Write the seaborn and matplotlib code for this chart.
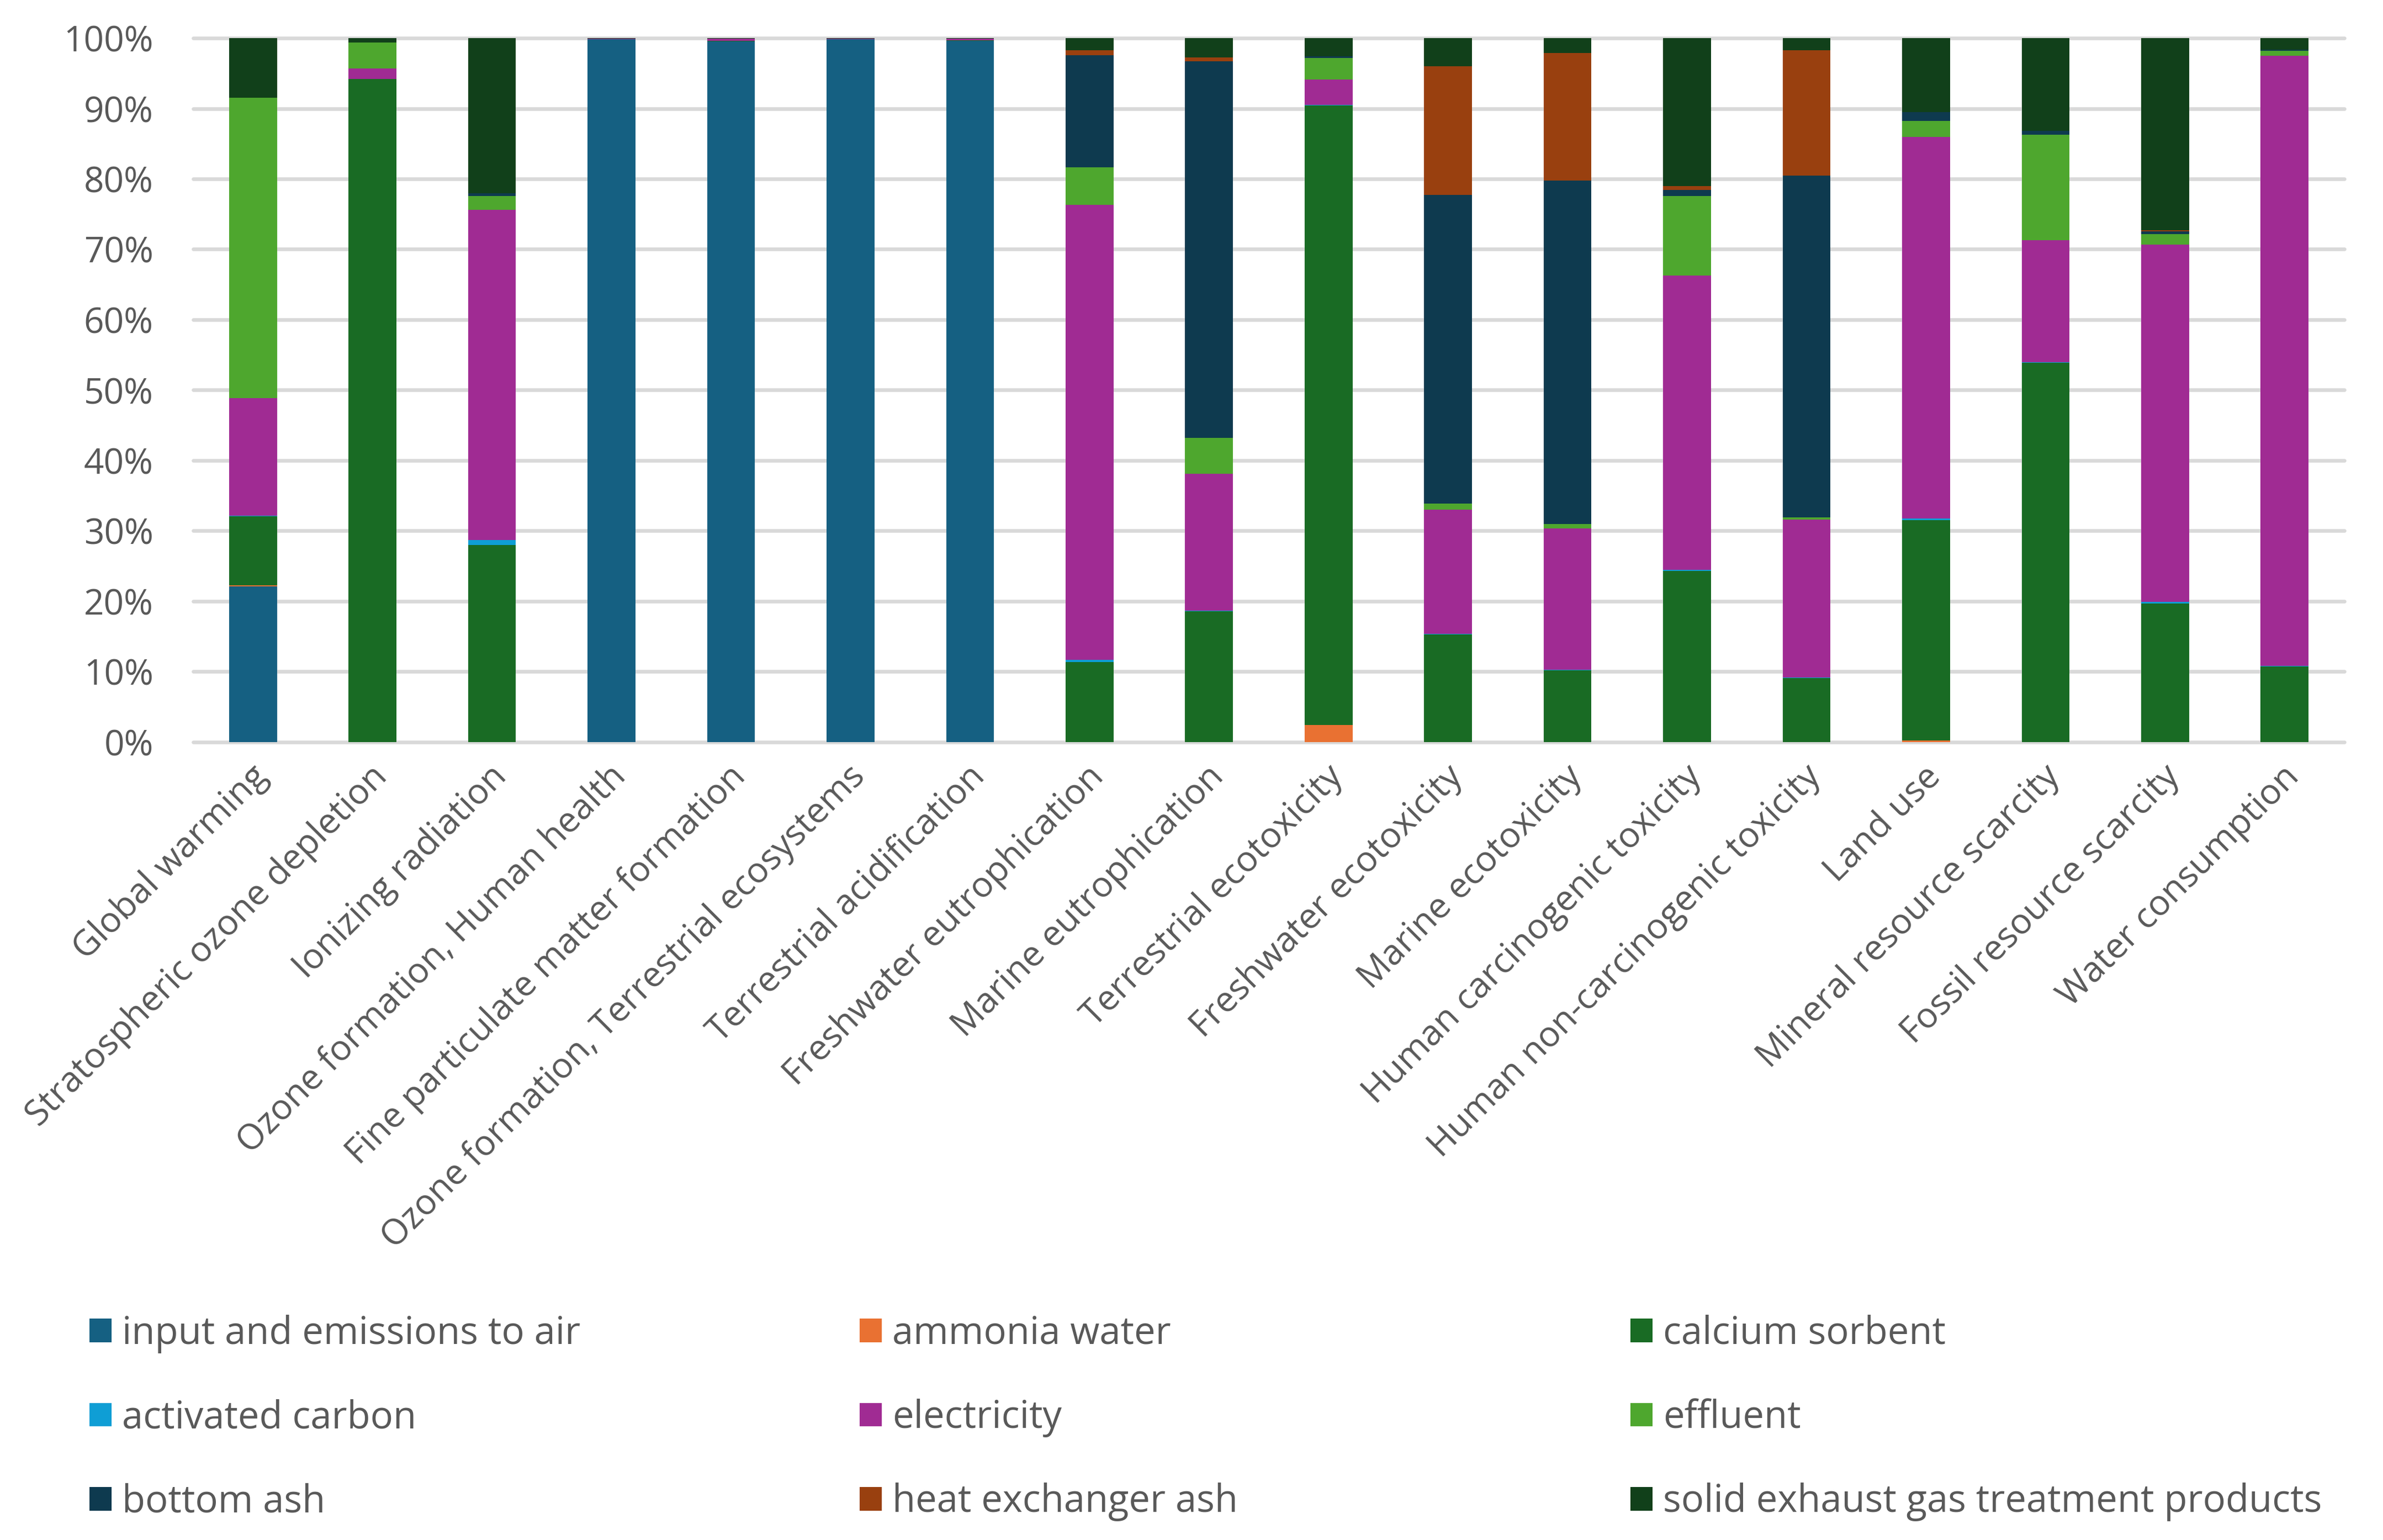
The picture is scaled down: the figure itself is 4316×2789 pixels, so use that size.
import matplotlib
matplotlib.use("Agg")
import matplotlib.pyplot as plt
import matplotlib.transforms as mtransforms
from matplotlib.patches import Patch
import numpy as np
import seaborn as sb

# impact categories (x axis)
categories = [
    "Global warming", "Stratospheric ozone depletion", "Ionizing radiation",
    "Ozone formation, Human health", "Fine particulate matter formation",
    "Ozone formation, Terrestrial ecosystems", "Terrestrial acidification",
    "Freshwater eutrophication", "Marine eutrophication", "Terrestrial ecotoxicity",
    "Freshwater ecotoxicity", "Marine ecotoxicity", "Human carcinogenic toxicity",
    "Human non-carcinogenic toxicity", "Land use", "Mineral resource scarcity",
    "Fossil resource scarcity", "Water consumption",
]

# contribution of each process (%), same order as categories
input_air = [22.1, 0, 0, 99.85, 99.55, 99.85, 99.6, 0, 0, 0, 0, 0, 0, 0, 0, 0, 0, 0]
ammonia_water = [0.2, 0, 0, 0, 0, 0, 0, 0, 0, 2.42, 0, 0, 0, 0, 0.2, 0, 0, 0]
calcium_sorbent = [9.8, 94.2, 28.0, 0, 0.08, 0, 0.08, 11.4, 18.6, 88.0, 15.3, 10.2,
                   24.3, 9.1, 31.3, 53.9, 19.7, 10.75]
activated_carbon = [0.1, 0, 0.7, 0, 0, 0, 0, 0.25, 0.1, 0.1, 0.05, 0.05,
                    0.15, 0.05, 0.25, 0.05, 0.2, 0.05]
electricity = [16.7, 1.5, 46.9, 0.1, 0.31, 0.1, 0.24, 64.65, 19.4, 3.6, 17.7, 20.1,
               41.8, 22.45, 54.2, 17.3, 50.7, 86.7]
effluent = [42.7, 3.7, 1.9, 0, 0, 0, 0, 5.35, 5.1, 3.05, 0.8, 0.65,
            11.3, 0.35, 2.3, 15.0, 1.5, 0.72]
bottom_ash = [0, 0, 0.45, 0, 0, 0, 0, 15.95, 53.5, 0.23, 43.9, 48.75,
              0.88, 48.5, 1.26, 0.56, 0.42, 0.15]
heat_exchanger_ash = [0, 0, 0, 0, 0, 0, 0, 0.65, 0.57, 0, 18.26, 18.12,
                      0.55, 17.81, 0, 0, 0.1, 0]
solid_exhaust = [8.45, 0.6, 22.0, 0.05, 0.06, 0.05, 0.08, 1.75, 2.73, 2.6, 4.0, 2.1,
                 21.0, 1.71, 10.5, 13.16, 27.3, 1.65]

series_names = [
    "input and emissions to air", "ammonia water", "calcium sorbent",
    "activated carbon", "electricity", "effluent",
    "bottom ash", "heat exchanger ash", "solid exhaust gas treatment products",
]
series_values = [input_air, ammonia_water, calcium_sorbent, activated_carbon,
                 electricity, effluent, bottom_ash, heat_exchanger_ash, solid_exhaust]
colors = ["#156082", "#E97132", "#196B24", "#0F9ED5", "#A02B93", "#4EA72E",
          "#0E3A4F", "#99400F", "#11401A"]

TEXT = "#595959"
GRID = "#D9D9D9"
FS = 23
LEG_FS = 24.7

sb.set_style("white")
plt.rcParams["font.family"] = ["Open Sans", "DejaVu Sans"]

# 100% stacked: normalise each category, then cumulate
vals = np.array(series_values, dtype=float)
shares = vals / vals.sum(axis=0) * 100
cum = np.cumsum(shares, axis=0)

fig = plt.figure(figsize=(4316 / 200, 2789 / 200), dpi=200)
ax = fig.add_axes([350 / 4316, 1 - 1344 / 2789, (4246 - 350) / 4316, (1344 - 69) / 2789])

# draw from the top layer down so each lower layer covers the one above
for k in reversed(range(len(series_names))):
    sb.barplot(x=categories, y=cum[k], color=colors[k], saturation=1, width=0.4,
               linewidth=0, ax=ax)

ax.set_xlim(-0.5, len(categories) - 0.5)
ax.set_ylim(0, 100)
ax.set_yticks(np.arange(0, 101, 10))
ax.set_yticklabels([f"{t}%" for t in range(0, 101, 10)])
ax.set_axisbelow(True)
ax.yaxis.grid(True, color=GRID, linewidth=2.4)
for gl in ax.get_ygridlines():
    gl.set_clip_on(False)
ax.xaxis.grid(False)
for s in ax.spines.values():
    s.set_visible(False)
ax.set_xlabel("")
ax.set_ylabel("")
ax.tick_params(axis="y", length=0, pad=26, labelsize=FS, labelcolor=TEXT)
ax.tick_params(axis="x", length=0, pad=19, labelsize=FS, labelcolor=TEXT)
ax.set_xticks(range(len(categories)))
ax.set_xticklabels(categories, rotation=45, ha="right", va="center",
                   rotation_mode="anchor")
shift = mtransforms.ScaledTranslation(6 / 72, 0, fig.dpi_scale_trans)
for lab in ax.get_xticklabels():
    lab.set_transform(lab.get_transform() + shift)

# legend: three columns, filled row by row like the original
handles = [Patch(facecolor=c, edgecolor="none") for c in colors]
col_x = [162 / 4316, 1557 / 4316, 2953 / 4316]
for j in range(3):
    idx = [j, j + 3, j + 6]
    fig.legend([handles[i] for i in idx], [series_names[i] for i in idx],
               loc="center left", bbox_to_anchor=(col_x[j], 0.0792),
               frameon=False, fontsize=LEG_FS, labelcolor=TEXT,
               handlelength=0.58, handleheight=0.58, handletextpad=0.28,
               labelspacing=1.2, borderpad=0, borderaxespad=0)

fig.savefig("out.png", dpi=200, facecolor="white")
